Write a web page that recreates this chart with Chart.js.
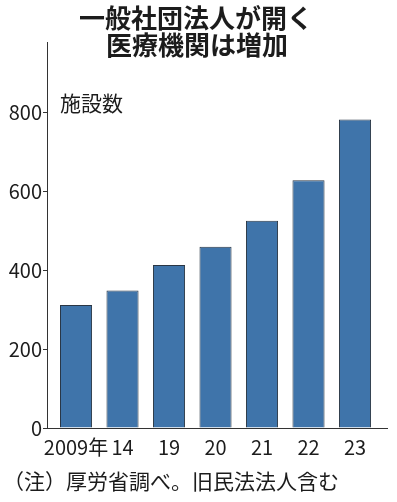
<!DOCTYPE html>
<html>
<head>
<meta charset="UTF-8">
<title>一般社団法人が開く医療機関は増加</title>
<script src="https://cdn.jsdelivr.net/npm/chart.js@4.4.1/dist/chart.umd.min.js"></script>
<style>
  html, body { margin: 0; padding: 0; background: #fff; }
  #wrap { position: relative; width: 397px; height: 502px; }
</style>
</head>
<body>
<div id="wrap"><canvas id="grafico"></canvas></div>
<script>
// データ
var years = ["2009年", "14", "19", "20", "21", "22", "23"];
var counts = [312, 349, 414, 460, 526, 629, 783];
var yTicks = [0, 200, 400, 600, 800];
var titleLines = ["一般社団法人が開く", "医療機関は増加"];
var unitLabel = "施設数";
var note = "（注）厚労省調べ。旧民法法人含む";

var FONT = '"Noto Sans CJK JP", "Noto Sans", sans-serif';
var INK = "#1c1c1c";

// タイトル・単位・注記を描く
var textPlugin = {
    id: "texts",
    afterDraw: function(chart) {
        var ctx = chart.ctx;
        ctx.save();
        ctx.fillStyle = INK;
        ctx.textBaseline = "middle";

        ctx.font = "bold 26px " + FONT;
        ctx.textAlign = "center";
        ctx.fillText(titleLines[0], 196, 18);
        ctx.fillText(titleLines[1], 197, 45);

        ctx.font = "21px " + FONT;
        ctx.textAlign = "left";
        ctx.fillText(unitLabel, chart.chartArea.left + 13, 103);

        ctx.font = "21px " + FONT;
        ctx.fillText(note, 3, 481);
        ctx.restore();
    }
};

var ctx = document.getElementById("grafico").getContext("2d");
var grafico = new Chart(ctx, {
    type: "bar",
    data: {
        datasets: [{
            data: years.map(function(y, i) { return { x: i, y: counts[i] }; }),
            backgroundColor: "#3f74aa",
            borderColor: "#2a3644",
            borderWidth: 1,
            barPercentage: 0.69,
            categoryPercentage: 1
        }]
    },
    options: {
        responsive: true,
        maintainAspectRatio: false,
        animation: false,
        layout: { padding: { top: 42, right: 10, bottom: 0, left: 0 } },
        plugins: {
            legend: { display: false },
            title: { display: false },
            tooltip: { enabled: false }
        },
        scales: {
            x: {
                type: "linear",
                offset: false,
                min: -0.624,
                max: 6.688,
                afterBuildTicks: function(axis) {
                    axis.ticks = years.map(function(y, i) { return { value: i }; });
                },
                afterFit: function(axis) { axis.height = 74; },
                grid: { display: false, drawTicks: false },
                border: { display: true, color: "#333", width: 1 },
                ticks: {
                    padding: 7,
                    color: INK,
                    font: { family: FONT, size: 20 },
                    maxRotation: 0,
                    autoSkip: false,
                    callback: function(v) { return years[v]; }
                }
            },
            y: {
                min: 0,
                max: 980,
                afterBuildTicks: function(axis) {
                    axis.ticks = yTicks.map(function(v) { return { value: v }; });
                },
                afterFit: function(axis) { axis.width = 47; },
                grid: { drawOnChartArea: false, drawTicks: true, tickLength: 4, color: "#333" },
                border: { display: true, color: "#333", width: 1 },
                ticks: {
                    padding: 1,
                    color: INK,
                    font: { family: FONT, size: 20 }
                }
            }
        }
    },
    plugins: [textPlugin]
});
</script>
</body>
</html>
